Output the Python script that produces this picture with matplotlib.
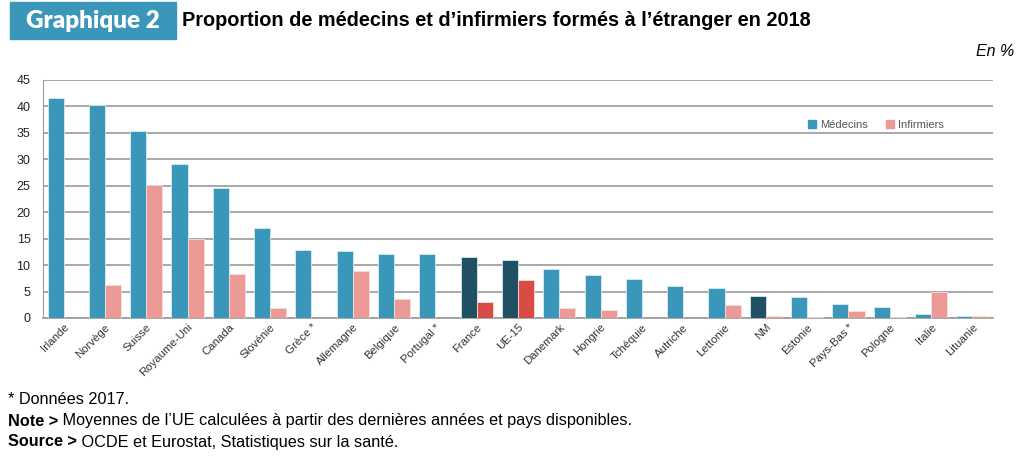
import matplotlib
matplotlib.use("Agg")
import matplotlib.pyplot as plt
from matplotlib.patches import Rectangle, Patch
import numpy as np

categories = ["Irlande", "Norvège", "Suisse", "Royaume-Uni", "Canada", "Slovénie",
              "Grèce *", "Allemagne", "Belgique", "Portugal *", "France", "UE-15",
              "Danemark", "Hongrie", "Tchéquie", "Autriche", "Lettonie", "NM",
              "Estonie", "Pays-Bas *", "Pologne", "Italie", "Lituanie"]
medecins = [41.6, 40.3, 35.4, 29.2, 24.6, 17.0, 12.8, 12.6, 12.1, 12.1, 11.5, 11.0,
            9.3, 8.1, 7.4, 6.0, 5.6, 4.2, 3.9, 2.7, 2.0, 0.8, 0.4]
infirmiers = [0, 6.2, 25.1, 15.0, 8.4, 1.8, 0, 8.8, 3.6, 0, 3.1, 7.1,
              1.8, 1.6, 0, 0, 2.5, 0.4, 0.1, 1.3, 0.1, 4.9, 0.3]
highlight_med = ["France", "UE-15", "NM"]
highlight_inf = ["France", "UE-15"]

C_MED = "#3A97B9"
C_INF = "#EC9A96"
C_MED_DARK = "#1F5064"
C_INF_DARK = "#D94B45"

plt.rcParams['font.family'] = ['Liberation Sans', 'DejaVu Sans']

fig = plt.figure(figsize=(10.24, 4.63), dpi=100)
ax = fig.add_axes([43/1024, 1 - 318/463, 950/1024, 238/463])

x = np.arange(len(categories))
w = 0.39
med_colors = [C_MED_DARK if c in highlight_med else C_MED for c in categories]
inf_colors = [C_INF_DARK if c in highlight_inf else C_INF for c in categories]
ax.bar(x - w/2, medecins, w, color=med_colors, edgecolor="#d6ecf3", linewidth=0.6, zorder=3)
ax.bar(x + w/2, infirmiers, w, color=inf_colors, edgecolor="#f8dcda", linewidth=0.6, zorder=3)

ax.set_xlim(-0.5, len(categories) - 0.5)
ax.set_ylim(0, 45)
ax.set_yticks(range(0, 46, 5))
ax.yaxis.grid(True, color="#9a9a9a", linewidth=1.2, zorder=0)
ax.set_axisbelow(True)
for s in ["top", "right"]:
    ax.spines[s].set_visible(False)
ax.spines["left"].set_color("#9a9a9a")
ax.spines["bottom"].set_color("#9a9a9a")
ax.spines["bottom"].set_linewidth(1.2)
ax.tick_params(axis="y", length=0, labelsize=9, pad=9, labelcolor="#222222")
ax.tick_params(axis="x", length=0, labelsize=8.2, labelcolor="#333333", pad=3)
ax.set_xticks(x)
ax.set_xticklabels(categories, rotation=45, ha="right", rotation_mode="anchor")

handles = [Patch(color=C_MED), Patch(color=C_INF)]
ax.legend(handles, ["Médecins", "Infirmiers"], loc="upper left",
          bbox_to_anchor=(0.795, 0.875), ncol=2, frameon=False,
          fontsize=8, handlelength=0.7, handleheight=0.7,
          handletextpad=0.4, columnspacing=1.6, labelcolor="#555555")

# Title box
fig.patches.append(Rectangle((10/1024, 1 - 39/463), 166/1024, 37/463,
                             transform=fig.transFigure, color=C_MED, zorder=0))
fig.text(93/1024, 1 - 21/463, "Graphique 2", color="white", fontsize=17.5,
         fontweight="heavy", family=["Lato", "DejaVu Sans"], ha="center", va="center")
fig.text(182/1024, 1 - 21/463, "Proportion de médecins et d’infirmiers formés à l’étranger en 2018",
         color="black", fontsize=14.3, fontweight="bold", ha="left", va="center")
fig.text(1014/1024, 1 - 52/463, "En %", fontsize=11.5, style="italic", ha="right", va="center")

fig.text(8/1024, 1 - 400/463, "* Données 2017.", fontsize=11.7, ha="left", va="center")

renderer = fig.canvas.get_renderer()
for ypix, bold, rest in [(421, "Note >", " Moyennes de l’UE calculées à partir des dernières années et pays disponibles."),
                         (442, "Source >", " OCDE et Eurostat, Statistiques sur la santé.")]:
    t = fig.text(8/1024, 1 - ypix/463, bold, fontsize=11.7, fontweight="bold", ha="left", va="center")
    bb = t.get_window_extent(renderer)
    fig.text(bb.x1/1024, 1 - ypix/463, rest, fontsize=11.7, ha="left", va="center")

fig.savefig("out.png", dpi=100)
